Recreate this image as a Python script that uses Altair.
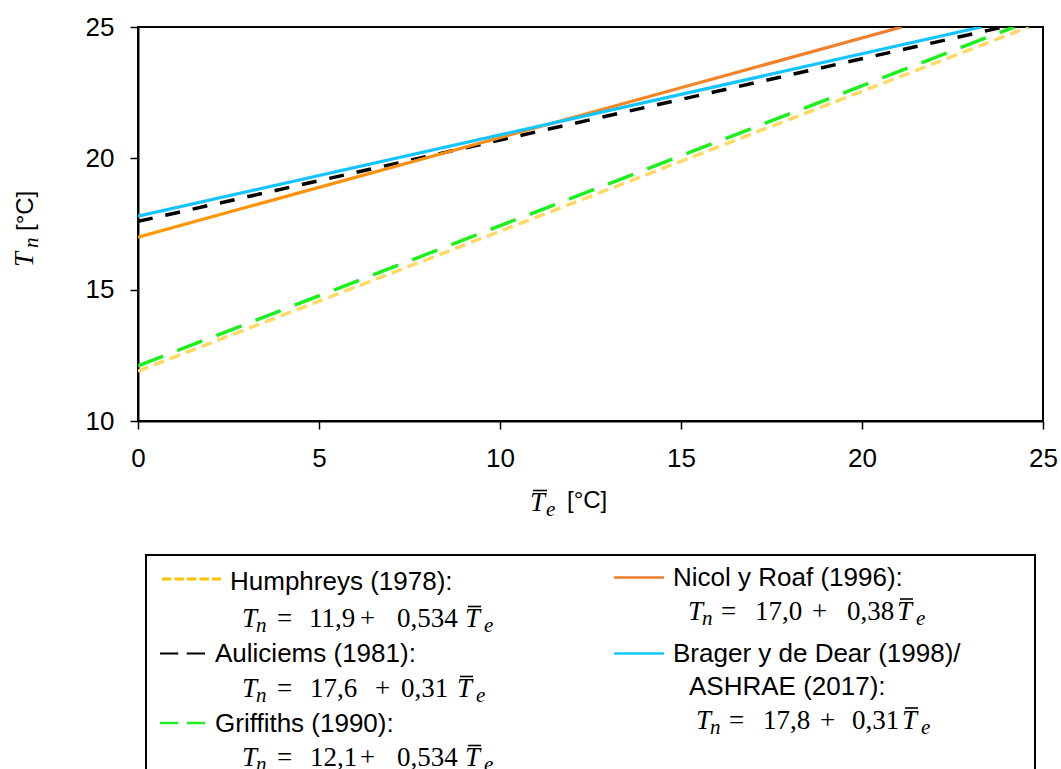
import altair as alt
import pandas as pd

# ---------------- data ----------------
series = ["Humphreys", "Auliciems", "Griffiths", "Nicol", "Brager"]
x_start = [0.0, 0.0, 0.0, 0.0, 0.0]
y_start = [11.9, 17.6, 12.1, 17.0, 17.8]
x_end = [24.6, 23.9, 24.2, 21.1, 23.3]
y_end = [25.0, 25.0, 25.0, 25.0, 25.0]
x_ticks = [0, 5, 10, 15, 20, 25]
y_ticks = [10, 15, 20, 25]
legend_labels = ["Humphreys (1978):", "Auliciems (1981):", "Griffiths (1990):",
                 "Nicol y Roaf (1996):", "Brager y de Dear (1998)/", "ASHRAE (2017):"]
eq_const = ["11,9", "17,6", "12,1", "17,0", "17,8"]
eq_slope = ["0,534", "0,31", "0,534", "0,38", "0,31"]

rows = []
for s, xa, ya, xb, yb in zip(series, x_start, y_start, x_end, y_end):
    rows.append({"series": s, "x": xa, "y": ya})
    rows.append({"series": s, "x": xb, "y": yb})
lines_df = pd.DataFrame(rows)

# ---------------- layout ----------------
W, H = 905, 394
OX, OY = 138, 27
SANS = "Liberation Sans"
SERIF = "Liberation Serif"

xscale = alt.Scale(domain=[0, 25], nice=False, zero=False)
yscale = alt.Scale(domain=[10, 25], nice=False, zero=False)
axis_common = dict(labelFont=SANS, labelFontSize=26, labelColor="black", tickSize=8,
                   tickColor="black", tickWidth=1.5, domainColor="black", domainWidth=2,
                   grid=False, title=None, labelPadding=16, labelFlush=False, labelOverlap=False)
xaxis = alt.Axis(values=x_ticks, **axis_common)
yaxis = alt.Axis(values=y_ticks, **axis_common)

styles = {
    "Humphreys": dict(stroke="#FFD966", strokeDash=[11, 6], strokeWidth=3.5),
    "Auliciems": dict(stroke="#000000", strokeDash=[15, 13], strokeWidth=3.5),
    "Griffiths": dict(stroke="#1CF01C", strokeDash=[27, 15], strokeWidth=3.5),
    "Nicol": dict(stroke=alt.Gradient(gradient="linear",
                                      stops=[alt.GradientStop(color="#FF9900", offset=0),
                                             alt.GradientStop(color="#ED7D31", offset=1)],
                                      x1=0, x2=1, y1=0, y2=0), strokeWidth=3.2),
    "Brager": dict(stroke="#14C4FF", strokeWidth=3.2),
}

layers = []
for s in series:
    layers.append(
        alt.Chart(lines_df).transform_filter(alt.datum.series == s)
        .mark_line(clip=True, **styles[s])
        .encode(x=alt.X("x:Q", scale=xscale, axis=xaxis),
                y=alt.Y("y:Q", scale=yscale, axis=yaxis))
    )


def pxdf(rows_, cols):
    df = pd.DataFrame(rows_, columns=cols)
    for c in cols:
        if c.startswith("px"):
            df[c] = df[c] - OX
        if c.startswith("py"):
            df[c] = df[c] - OY
    return df


def text_layer(rows_, font, size, style="normal", angle=0):
    df = pxdf(rows_, ["t", "px", "py"])
    return alt.Chart(df).mark_text(font=font, fontSize=size, fontStyle=style, align="left",
                                   baseline="alphabetic", angle=angle, color="black").encode(
        x=alt.X("px:Q", scale=None, axis=None),
        y=alt.Y("py:Q", scale=None, axis=None),
        text="t:N")


def rule_layer(rows_, **kw):
    df = pxdf(rows_, ["px1", "px2", "py"])
    return alt.Chart(df).mark_rule(**kw).encode(
        x=alt.X("px1:Q", scale=None, axis=None), x2="px2:Q",
        y=alt.Y("py:Q", scale=None, axis=None))


# legend box
box_df = pxdf([[146, 1035, 555, 800]], ["px1", "px2", "py1", "py2"])
layers.append(alt.Chart(box_df).mark_rect(fill="white", fillOpacity=0, stroke="black", strokeWidth=2).encode(
    x=alt.X("px1:Q", scale=None, axis=None), x2="px2:Q",
    y=alt.Y("py1:Q", scale=None, axis=None), y2="py2:Q"))

# legend samples
layers.append(rule_layer([[162, 221, 579]], stroke="#FFC000", strokeWidth=3, strokeDash=[9.3, 3.2]))
layers.append(rule_layer([[160, 205, 653.5]], stroke="#000000", strokeWidth=2, strokeDash=[18.3, 8.4]))
layers.append(rule_layer([[160, 205, 723]], stroke="#22EE22", strokeWidth=2.5, strokeDash=[18.3, 8.4]))
layers.append(rule_layer([[614, 664, 577.5]], stroke="#ED7D31", strokeWidth=2.5))
layers.append(rule_layer([[614, 664, 653.5]], stroke="#14C8FF", strokeWidth=2.5))

# legend labels
label_pos = [(230, 590), (215, 661.7), (215, 731.7), (673, 586), (673, 661.7), (689, 695)]
layers.append(text_layer([[t, x, y] for t, (x, y) in zip(legend_labels, label_pos)], SANS, 26))

# equations: (T x, n x, '=' x, const x, '+' x, slope x, Tbar x, e x, baseline)
eq_pos = [
    (242, 256, 277, 309, 360, 397, 465, 484, 627),
    (242, 256, 277, 310, 375, 401, 457, 476, 697),
    (242, 256, 277, 310, 360, 397, 465, 484, 766),
    (688, 702, 721, 755, 812, 847, 897, 916, 619.5),
    (696, 710, 729, 763, 820, 852, 902, 921, 728.5),
]
ital_big, ital_sub, upright, bars = [], [], [], []
for c, sl, (xt, xn, xeq, xc, xp, xs, xtb, xe, b) in zip(eq_const, eq_slope, eq_pos):
    ital_big += [["T", xt, b], ["T", xtb, b]]
    ital_sub += [["n", xn, b + 5], ["e", xe, b + 5]]
    upright += [["=", xeq, b], [c, xc, b], ["+", xp, b], [sl, xs, b]]
    bars.append([xtb + 3, xtb + 16, b - 20.5])

# axis titles (custom so the math can be typeset)
ital_big.append(["T", 530, 510.7])
ital_sub.append(["e", 546, 515.5])
bars.append([533, 547, 490.5])

layers.append(text_layer(ital_big, SERIF, 27, "italic"))
layers.append(text_layer(ital_sub, SERIF, 21, "italic"))
layers.append(text_layer(upright, SERIF, 27))
layers.append(rule_layer(bars, stroke="black", strokeWidth=1.6))
layers.append(text_layer([["[°C]", 567, 508]], SANS, 24))

# rotated y title
layers.append(text_layer([["T", 33, 267]], SERIF, 27, "italic", angle=270))
layers.append(text_layer([["n", 38, 248]], SERIF, 21, "italic", angle=270))
layers.append(text_layer([["[°C]", 33, 231]], SANS, 24, angle=270))

chart = alt.layer(*layers).properties(
    width=W, height=H,
    padding={"left": OX, "top": OY, "right": 1061 - OX - W, "bottom": 769 - OY - H},
    autosize=alt.AutoSizeParams(type="none"),
    background="white",
).configure_view(stroke="black", strokeWidth=2)

chart.save("out.html", embed_options={"renderer": "svg", "actions": False})
